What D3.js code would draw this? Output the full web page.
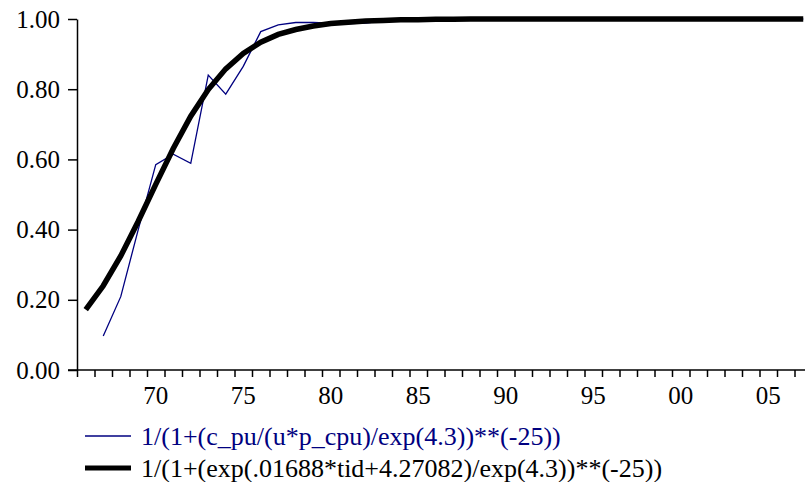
<!DOCTYPE html>
<html>
<head>
<meta charset="utf-8">
<script src="https://cdn.jsdelivr.net/npm/d3@7"></script>
<style>
  body { margin: 0; background: #fff; }
  svg text { font-family: 'Liberation Serif', 'Times New Roman', Times, 'DejaVu Serif', serif; }
</style>
</head>
<body>
<svg id="chart" width="805" height="482"></svg>
<script>
// years of the fitted curve and of the observed share
const fitYears = d3.range(1966, 2008);
const fitValues = [0.172, 0.240, 0.325, 0.424, 0.529, 0.631, 0.723, 0.799, 0.858, 0.902,
    0.934, 0.956, 0.970, 0.980, 0.987, 0.991, 0.994, 0.996, 0.998, 0.998,
    0.999, 0.999, 1.000, 1.000, 1.000, 1.000, 1.000, 1.000, 1.000, 1.000,
    1.000, 1.000, 1.000, 1.000, 1.000, 1.000, 1.000, 1.000, 1.000, 1.000,
    1.000, 1.000];

const dataYears = d3.range(1967, 2008);
const dataValues = [0.097, 0.209, 0.400, 0.585, 0.615, 0.589, 0.840, 0.786, 0.865, 0.964,
    0.983, 0.990, 0.990, 0.988, 0.987, 0.988, 0.995, 0.998, 0.999, 1.000,
    1.000, 1.000, 1.000, 1.000, 1.000, 1.000, 1.000, 1.000, 1.000, 1.000,
    1.000, 1.000, 1.000, 1.000, 1.000, 1.000, 1.000, 1.000, 1.000, 1.000,
    1.000];

const yTicks = [0, 0.2, 0.4, 0.6, 0.8, 1.0];
const xLabelYears = [1970, 1975, 1980, 1985, 1990, 1995, 2000, 2005];
const legendLabels = [
    '1/(1+(c_pu/(u*p_cpu)/exp(4.3))**(-25))',
    '1/(1+(exp(.01688*tid+4.27082)/exp(4.3))**(-25))'
];

const blue = '#000080';
const fontSize = 25;
const svg = d3.select('#chart');

const x = d3.scaleLinear().domain([1966, 2008]).range([77, 812]);
const y = d3.scaleLinear().domain([0, 1]).range([370, 19]);

// y axis
const yAxis = svg.append('g')
    .attr('transform', 'translate(77,0)')
    .call(d3.axisLeft(y).tickValues(yTicks).tickSize(9).tickSizeOuter(0).tickFormat(d3.format('.2f')));
yAxis.attr('font-family', null).attr('font-size', fontSize);
yAxis.select('.domain').attr('stroke', '#000').attr('stroke-width', 1.5);
yAxis.selectAll('.tick line').attr('stroke-width', 1.5);
yAxis.selectAll('.tick text')
    .attr('x', -17)
    .attr('fill', '#000');

// x axis: ticks at year boundaries, labels centred in the year
const xAxis = svg.append('g')
    .attr('transform', 'translate(0,370)')
    .call(d3.axisBottom(x).tickValues(fitYears).tickSize(7).tickSizeOuter(0).tickFormat(''));
xAxis.select('.domain').remove();
xAxis.selectAll('.tick line').attr('stroke-width', 1.5);
xAxis.append('line')
    .attr('x1', 68).attr('x2', 805)
    .attr('stroke', '#000').attr('stroke-width', 1.5);

svg.append('g').selectAll('text')
    .data(xLabelYears)
    .join('text')
    .attr('x', (d) => x(d + 0.5))
    .attr('y', 404)
    .attr('text-anchor', 'middle')
    .attr('font-size', fontSize)
    .text((d) => String(d % 100).padStart(2, '0'));

const line = d3.line()
    .x((d) => x(d[0] + 0.5))
    .y((d) => y(d[1]));

const plot = svg.append('g');

plot.append('path')
    .datum(dataYears.map((yr, i) => [yr, dataValues[i]]))
    .attr('d', line)
    .attr('fill', 'none')
    .attr('stroke', blue)
    .attr('stroke-width', 1.3);

plot.append('path')
    .datum(fitYears.map((yr, i) => [yr, fitValues[i]]))
    .attr('d', line)
    .attr('fill', 'none')
    .attr('stroke', '#000')
    .attr('stroke-width', 5.5);

// legend
const legend = svg.append('g');
const legendY = [436, 468];
const legendColors = [blue, '#000'];
const legendWidths = [1.3, 5];

legendLabels.forEach((label, i) => {
    legend.append('line')
        .attr('x1', 85).attr('x2', 131)
        .attr('y1', legendY[i]).attr('y2', legendY[i])
        .attr('stroke', legendColors[i])
        .attr('stroke-width', legendWidths[i]);
    legend.append('text')
        .attr('x', 141)
        .attr('y', legendY[i])
        .attr('dy', '0.35em')
        .attr('font-size', 26)
        .attr('fill', legendColors[i])
        .text(label);
});
</script>
</body>
</html>
